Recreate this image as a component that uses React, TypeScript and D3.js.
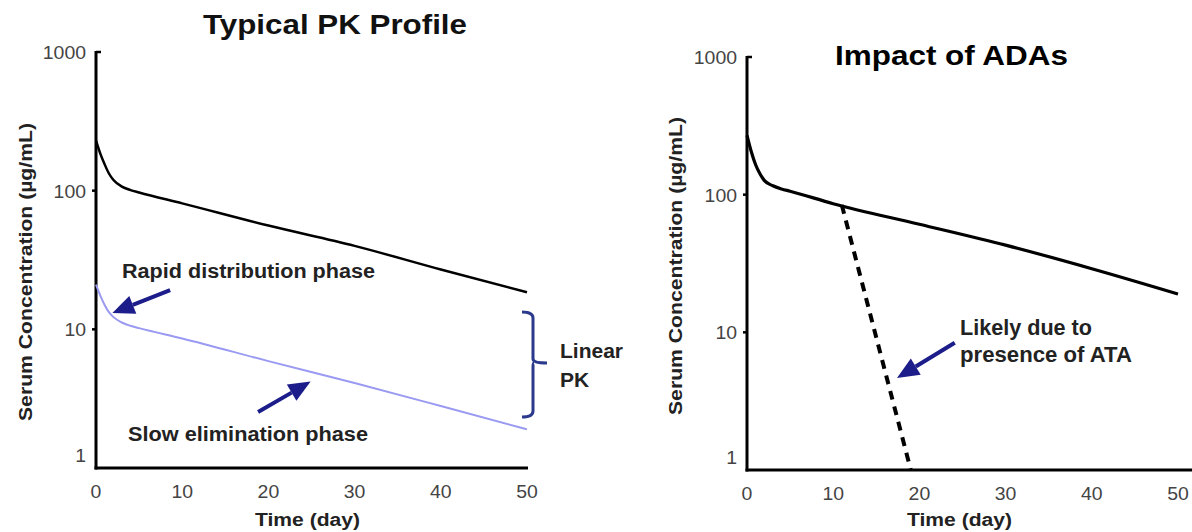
import React from "react";
import * as d3 from "d3";

// ---- data ----
const timeDays = [0, 0.5, 1, 1.5, 2, 3, 4, 5, 10, 20, 30, 40, 50];
const typicalHigh = [230, 185, 155, 133, 120, 107, 101, 97, 81, 56, 40, 27, 18.5];
const typicalLow = [21, 17.5, 15, 13.3, 12.3, 11.2, 10.6, 10.2, 8.6, 5.9, 4.1, 2.8, 1.9];
const adaNoAta = [270, 205, 165, 142, 127, 116, 110, 106, 86, 61, 43, 29, 19];
const ataTime = [11, 19];
const ataConc = [84, 1];
const xTicks = [0, 10, 20, 30, 40, 50];
const yTicks = [1, 10, 100, 1000];

const FONT = "'Liberation Sans', Arial, Helvetica, sans-serif";
const NAVY = "#1c1c8a";

function T(props: any) {
  const { len, children, ...rest } = props;
  return (
    <text fontFamily={FONT} fontWeight="bold" fill="#222" textLength={len} lengthAdjust="spacingAndGlyphs" {...rest}>
      {children}
    </text>
  );
}

function Arrow({ x1, y1, x2, y2 }: { x1: number; y1: number; x2: number; y2: number }) {
  const ang = Math.atan2(y2 - y1, x2 - x1);
  const L = 22, W = 9.5;
  const bx = x2 - L * Math.cos(ang), by = y2 - L * Math.sin(ang);
  const px = -Math.sin(ang) * W, py = Math.cos(ang) * W;
  return (
    <g>
      <line x1={x1} y1={y1} x2={bx} y2={by} stroke={NAVY} strokeWidth={4} />
      <polygon points={`${x2},${y2} ${bx + px},${by + py} ${bx - px},${by - py}`} fill={NAVY} />
    </g>
  );
}

function Axes({ x, y, xEnd }: { x: any; y: any; xEnd: number }) {
  const x0 = x(0), y0 = y(1);
  return (
    <g fontFamily={FONT}>
      <line x1={x0} y1={y(1000) - 1} x2={x0} y2={y0 + 1.5} stroke="#000" strokeWidth={3} />
      <line x1={x0 - 1.5} y1={y0} x2={xEnd} y2={y0} stroke="#000" strokeWidth={3} />
      <line x1={x0} y1={y(1000)} x2={x0 + 5} y2={y(1000)} stroke="#000" strokeWidth={2.5} />
      {yTicks.map((t) => (
        <g key={t}>
          {t !== 1 && t !== 1000 && <line x1={x0 - 4} y1={y(t)} x2={x0} y2={y(t)} stroke="#000" strokeWidth={2.5} />}
          <text x={x0 - 10} y={y(t) + (t === 1 ? -6 : 7)} textAnchor="end" fontSize={18} fill="#444"
            textLength={String(t).length * 10.8} lengthAdjust="spacingAndGlyphs">{t}</text>
        </g>
      ))}
      {xTicks.map((t) => (
        <text key={t} x={x(t)} y={y0 + 30} textAnchor="middle" fontSize={18} fill="#444"
          textLength={String(t).length * 10.8} lengthAdjust="spacingAndGlyphs">{t}</text>
      ))}
    </g>
  );
}

export default function App() {
  const xl = d3.scaleLinear().domain([0, 50]).range([96, 527]);
  const yl = d3.scaleLog().domain([1, 1000]).range([468, 52]);
  const xr = d3.scaleLinear().domain([0, 50]).range([747, 1178]);
  const yr = d3.scaleLog().domain([1, 1000]).range([470, 57]);

  const lineL = d3.line<number>().x((_, i) => xl(timeDays[i])).y((v) => yl(v)).curve(d3.curveMonotoneX);
  const lineR = d3.line<number>().x((_, i) => xr(timeDays[i])).y((v) => yr(v)).curve(d3.curveMonotoneX);
  const lineAta = d3.line<number>().x((_, i) => xr(ataTime[i])).y((v) => yr(v));

  const bx = 533;
  const bTop = 312, bBot = 417, bMid = 363;

  return (
    <svg width={1192} height={532} style={{ position: "absolute", left: 0, top: 0, background: "#fff" }}>
      {/* Left panel */}
      <T x={203} y={34} fontSize={28} len={264} fill="#111">Typical PK Profile</T>
      <Axes x={xl} y={yl} xEnd={xl(50) + 1} />
      <path d={lineL(typicalHigh) || ""} fill="none" stroke="#000" strokeWidth={2.5} />
      <path d={lineL(typicalLow) || ""} fill="none" stroke="#9a9af2" strokeWidth={2} />
      <T transform="translate(32,272) rotate(-90)" textAnchor="middle" fontSize={19} len={298}>Serum Concentration (µg/mL)</T>
      <T x={255} y={526} fontSize={18} len={105}>Time (day)</T>
      <T x={122} y={278} fontSize={20} len={253}>Rapid distribution phase</T>
      <T x={128} y={441} fontSize={20} len={240}>Slow elimination phase</T>
      <Arrow x1={xl(8.6)} y1={yl(19.2)} x2={xl(1.9)} y2={yl(13.1)} />
      <Arrow x1={xl(18.8)} y1={yl(2.53)} x2={xl(24.9)} y2={yl(4.2)} />
      <path d={`M${bx - 11},${bTop} Q${bx},${bTop} ${bx},${bTop + 6} L${bx},${bMid - 4} Q${bx},${bMid} ${bx + 14},${bMid} M${bx + 1},${bMid} Q${bx},${bMid} ${bx},${bMid + 4} L${bx},${bBot - 6} Q${bx},${bBot} ${bx - 11},${bBot}`} fill="none" stroke="#2b3a8c" strokeWidth={3} />
      <T x={560} y={358} fontSize={21} len={63}>Linear</T>
      <T x={560} y={387} fontSize={21}>PK</T>

      {/* Right panel */}
      <T x={835} y={65} fontSize={28} len={233} fill="#000">Impact of ADAs</T>
      <Axes x={xr} y={yr} xEnd={1192} />
      <path d={lineR(adaNoAta) || ""} fill="none" stroke="#000" strokeWidth={3.2} />
      <path d={lineAta(ataConc) || ""} fill="none" stroke="#000" strokeWidth={4} strokeDasharray="9 7" />
      <T transform="translate(682,266) rotate(-90)" textAnchor="middle" fontSize={19} len={298}>Serum Concentration (µg/mL)</T>
      <T x={907} y={526} fontSize={18} len={105}>Time (day)</T>
      <T x={960} y={335} fontSize={22} len={132}>Likely due to</T>
      <T x={960} y={362} fontSize={22} len={172}>presence of ATA</T>
      <Arrow x1={xr(24.1)} y1={yr(8.4)} x2={xr(17.4)} y2={yr(4.66)} />
    </svg>
  );
}
